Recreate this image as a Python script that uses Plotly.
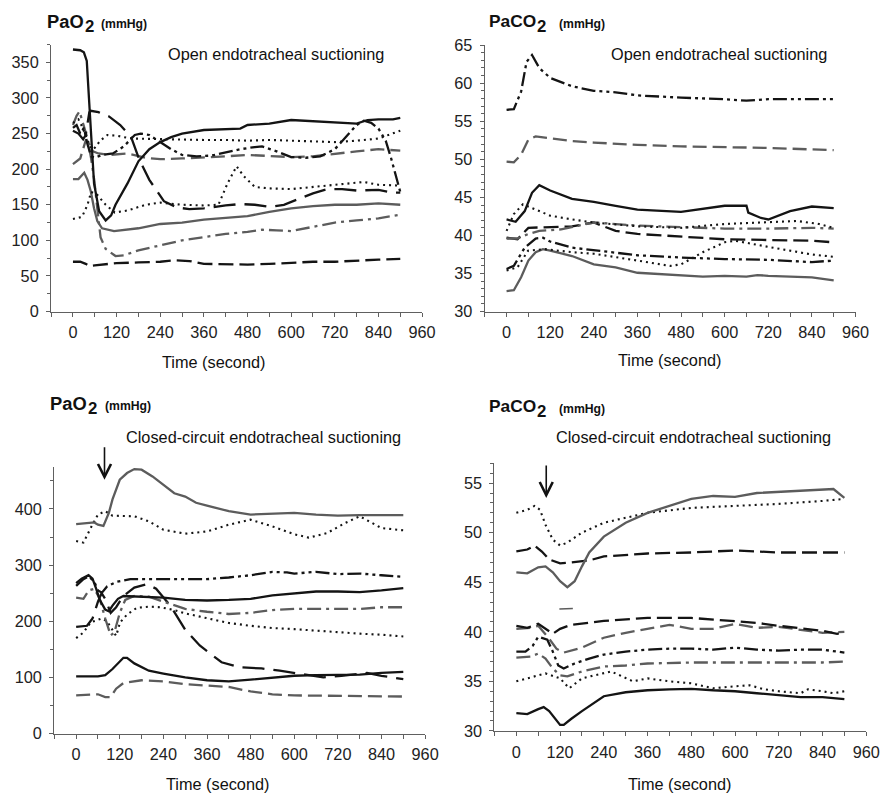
import plotly.graph_objects as go

# ---------------- Panel 1: Open suctioning, PaO2 ----------------
p1_solid_black_t = [0, 20, 30, 38, 44, 49, 58, 72, 90, 105, 117, 150, 180, 210, 240, 270, 300, 360, 420, 460, 480, 540, 600, 660, 720, 780, 810, 840, 880, 900]
p1_solid_black_v = [368, 367, 364, 352, 300, 250, 180, 141, 128, 135, 150, 180, 211, 228, 238, 245, 250, 255, 256, 257, 262, 264, 269, 267, 266, 264, 269, 270, 270, 272]
p1_solid_gray_t = [0, 15, 31, 40, 49, 58, 67, 80, 113, 180, 240, 300, 360, 420, 480, 540, 600, 660, 720, 780, 840, 900]
p1_solid_gray_v = [186, 186, 195, 185, 169, 145, 127, 117, 113, 117, 123, 125, 129, 131, 134, 140, 145, 148, 150, 150, 152, 150]
p1_dashdot_gray_t = [0, 10, 18, 30, 40, 50, 59, 68, 76, 90, 117, 140, 180, 240, 300, 380, 420, 480, 520, 560, 600, 660, 720, 780, 840, 900]
p1_dashdot_gray_v = [262, 275, 281, 262, 243, 215, 183, 140, 104, 88, 78, 79, 86, 93, 100, 106, 109, 112, 115, 114, 113, 119, 125, 128, 131, 136]
p1_dash_gray_t = [0, 20, 35, 45, 55, 70, 100, 150, 200, 240, 300, 360, 420, 480, 540, 600, 660, 720, 780, 840, 900]
p1_dash_gray_v = [207, 215, 240, 235, 225, 222, 220, 222, 216, 214, 215, 216, 218, 220, 219, 217, 218, 222, 225, 228, 226]
p1_longdash_black_t = [0, 15, 28, 35, 45, 49, 70, 99, 130, 160, 182, 210, 250, 287, 320, 360, 420, 460, 500, 540, 580, 620, 660, 700, 740, 780, 840, 880, 900]
p1_longdash_black_v = [254, 250, 242, 248, 280, 282, 280, 274, 262, 245, 214, 185, 155, 146, 144, 145, 149, 151, 150, 147, 150, 158, 166, 172, 172, 170, 171, 167, 167]
p1_dashdotdot_black_t = [0, 10, 20, 30, 40, 50, 60, 80, 110, 140, 170, 186, 210, 240, 270, 300, 340, 380, 420, 460, 500, 520, 560, 600, 640, 680, 720, 750, 780, 800, 820, 840, 860, 875, 890, 900]
p1_dashdotdot_black_v = [258, 262, 250, 258, 235, 218, 216, 220, 222, 232, 248, 250, 248, 238, 228, 220, 218, 219, 224, 228, 231, 232, 225, 217, 216, 218, 228, 245, 262, 268, 265, 257, 240, 215, 185, 168]
p1_dot_upper_t = [0, 15, 25, 40, 50, 60, 75, 95, 120, 160, 240, 300, 360, 420, 480, 540, 600, 660, 720, 780, 840, 900]
p1_dot_upper_v = [265, 270, 260, 240, 228, 230, 240, 248, 247, 243, 242, 242, 241, 241, 240, 241, 240, 240, 238, 240, 243, 254]
p1_dot_lower_t = [0, 25, 40, 50, 65, 90, 115, 150, 200, 240, 300, 360, 400, 425, 450, 470, 500, 540, 600, 660, 720, 780, 800, 840, 900]
p1_dot_lower_v = [130, 133, 150, 168, 165, 150, 139, 142, 150, 153, 150, 149, 150, 180, 204, 190, 175, 173, 172, 175, 177, 180, 182, 178, 177]
p1_dash_black_t = [0, 20, 35, 45, 60, 90, 120, 180, 240, 280, 320, 360, 420, 480, 540, 600, 660, 720, 780, 840, 900]
p1_dash_black_v = [70, 70, 67, 64, 65, 67, 68, 69, 70, 72, 71, 67, 66, 66, 67, 69, 70, 70, 72, 73, 74]

# ---------------- Panel 2: Open suctioning, PaCO2 ----------------
p2_dashdotdot_top_t = [0, 20, 40, 55, 70, 90, 120, 180, 240, 300, 360, 480, 600, 660, 720, 840, 900]
p2_dashdotdot_top_v = [56.5, 56.6, 58.9, 62.8, 63.7, 62.0, 60.7, 59.6, 59.0, 58.8, 58.4, 58.1, 57.9, 57.7, 57.9, 57.9, 57.9]
p2_dash_gray_t = [0, 20, 40, 60, 80, 120, 180, 240, 360, 480, 600, 720, 840, 900]
p2_dash_gray_v = [49.7, 49.6, 50.6, 52.6, 53.0, 52.8, 52.4, 52.2, 51.9, 51.7, 51.6, 51.5, 51.3, 51.2]
p2_solid_black_t = [0, 25, 50, 70, 90, 120, 180, 240, 300, 360, 480, 600, 660, 665, 700, 720, 780, 840, 900]
p2_solid_black_v = [42.1, 41.8, 43.2, 45.6, 46.6, 45.9, 44.8, 44.4, 43.9, 43.4, 43.1, 43.9, 43.9, 43.0, 42.3, 42.1, 43.2, 43.8, 43.6]
p2_dot_upper_t = [0, 20, 45, 90, 120, 180, 240, 360, 480, 600, 720, 800, 860, 900]
p2_dot_upper_v = [40.6, 42.8, 44.1, 43.2, 42.6, 42.1, 41.7, 41.2, 41.0, 41.5, 41.7, 41.9, 41.5, 41.0]
p2_dashdot_gray_t = [0, 30, 60, 90, 150, 240, 300, 360, 480, 600, 720, 840, 900]
p2_dashdot_gray_v = [39.6, 39.6, 40.2, 40.6, 40.8, 41.7, 41.5, 41.3, 41.1, 40.9, 40.9, 41.0, 40.9]
p2_dash_black_t = [0, 30, 60, 120, 180, 240, 300, 360, 480, 600, 720, 840, 900]
p2_dash_black_v = [39.7, 39.5, 41.0, 41.1, 41.2, 41.7, 40.6, 40.2, 39.8, 39.5, 39.4, 39.3, 39.1]
p2_dashdotdot_low_t = [0, 20, 50, 80, 100, 120, 180, 240, 360, 480, 600, 720, 840, 900]
p2_dashdotdot_low_v = [35.6, 36.0, 38.4, 39.6, 39.7, 39.2, 38.4, 38.1, 37.4, 37.1, 36.9, 36.8, 36.5, 36.7]
p2_dot_lower_t = [0, 30, 59, 105, 180, 240, 360, 450, 480, 540, 600, 630, 720, 840, 900]
p2_dot_lower_v = [35.4, 35.8, 38.0, 38.2, 37.8, 37.6, 36.7, 36.0, 36.2, 37.8, 39.1, 39.3, 38.5, 37.5, 37.2]
p2_solid_gray_t = [0, 20, 40, 60, 80, 100, 120, 180, 240, 300, 360, 480, 540, 600, 660, 690, 720, 840, 900]
p2_solid_gray_v = [32.7, 32.8, 34.5, 36.7, 37.8, 38.2, 38.0, 37.3, 36.2, 35.8, 35.1, 34.8, 34.6, 34.7, 34.6, 34.8, 34.7, 34.5, 34.1]

# ---------------- Panel 3: Closed-circuit suctioning, PaO2 ----------------
p3_solid_gray_t = [0, 30, 50, 60, 75, 90, 100, 120, 140, 160, 180, 210, 240, 270, 300, 330, 360, 420, 480, 540, 600, 660, 720, 780, 840, 900]
p3_solid_gray_v = [373, 374, 376, 372, 370, 393, 417, 452, 464, 471, 470, 458, 443, 428, 422, 411, 406, 396, 390, 392, 393, 390, 388, 389, 389, 389]
p3_dot_top_t = [0, 20, 40, 60, 80, 100, 160, 200, 240, 300, 360, 420, 480, 540, 600, 640, 690, 740, 780, 840, 900]
p3_dot_top_v = [343, 340, 366, 390, 396, 388, 387, 378, 363, 356, 360, 372, 381, 369, 355, 349, 357, 375, 387, 366, 362]
p3_dashdotdot_t = [0, 20, 35, 50, 60, 71, 85, 110, 149, 240, 360, 420, 480, 540, 580, 600, 660, 720, 780, 840, 900]
p3_dashdotdot_v = [263, 275, 280, 270, 255, 251, 262, 270, 275, 275, 275, 278, 282, 288, 287, 285, 288, 284, 285, 282, 279]
p3_solid_black_t = [0, 15, 34, 45, 55, 65, 80, 90, 100, 115, 130, 180, 240, 300, 360, 420, 480, 540, 600, 660, 720, 780, 840, 900]
p3_solid_black_v = [268, 276, 282, 276, 258, 238, 221, 218, 228, 240, 245, 244, 242, 238, 237, 238, 240, 246, 249, 253, 253, 252, 255, 259]
p3_dashdot_gray_t = [0, 20, 35, 50, 65, 80, 95, 105, 120, 135, 160, 200, 240, 300, 360, 420, 480, 540, 600, 660, 720, 780, 840, 900]
p3_dashdot_gray_v = [242, 240, 255, 258, 240, 205, 175, 180, 215, 238, 245, 244, 235, 222, 217, 213, 215, 220, 222, 222, 223, 222, 225, 225]
p3_longdash_black_t = [0, 30, 45, 60, 70, 80, 95, 110, 130, 160, 195, 220, 260, 300, 340, 400, 450, 510, 560, 620, 680, 730, 800, 840, 900]
p3_longdash_black_v = [190, 192, 205, 235, 250, 240, 215, 225, 245, 260, 266, 258, 227, 185, 157, 127, 118, 116, 112, 106, 100, 103, 108, 103, 97]
p3_dot_mid_t = [0, 20, 40, 55, 70, 85, 100, 110, 121, 140, 167, 200, 232, 270, 300, 360, 420, 480, 540, 600, 660, 720, 780, 840, 900]
p3_dot_mid_v = [170, 180, 198, 202, 205, 200, 185, 174, 198, 212, 224, 226, 225, 220, 214, 205, 197, 192, 188, 186, 183, 180, 178, 176, 173]
p3_solid_black_low_t = [0, 60, 80, 100, 130, 140, 160, 200, 240, 300, 360, 420, 480, 540, 600, 660, 720, 780, 840, 900]
p3_solid_black_low_v = [102, 102, 104, 115, 135, 135, 125, 112, 107, 100, 95, 93, 96, 100, 103, 104, 104, 105, 108, 110]
p3_dash_gray_t = [0, 40, 60, 80, 95, 110, 130, 180, 240, 300, 360, 420, 480, 540, 600, 720, 840, 900]
p3_dash_gray_v = [68, 70, 70, 65, 65, 80, 90, 95, 93, 88, 86, 83, 75, 70, 68, 67, 66, 66]

# ---------------- Panel 4: Closed-circuit suctioning, PaCO2 ----------------
p4_solid_gray_t = [0, 30, 60, 80, 100, 120, 140, 160, 180, 200, 240, 300, 360, 420, 480, 540, 600, 660, 720, 780, 840, 870, 900]
p4_solid_gray_v = [46.0, 45.9, 46.5, 46.6, 46.0, 45.1, 44.5, 45.1, 46.6, 48.0, 49.6, 51.0, 52.0, 52.7, 53.4, 53.7, 53.6, 54.0, 54.1, 54.2, 54.3, 54.4, 53.5]
p4_dot_top_t = [0, 30, 50, 65, 80, 100, 120, 140, 180, 240, 300, 360, 480, 600, 720, 840, 900]
p4_dot_top_v = [52.0, 52.3, 52.7, 52.3, 50.8, 49.3, 48.7, 49.0, 50.0, 51.0, 51.5, 52.0, 52.5, 52.7, 52.9, 53.2, 53.4]
p4_dash_black_t = [0, 30, 50, 70, 90, 120, 150, 200, 240, 360, 480, 600, 720, 840, 900]
p4_dash_black_v = [48.1, 48.3, 48.7, 48.1, 47.3, 46.9, 47.0, 47.2, 47.6, 47.9, 48.0, 48.2, 48.0, 48.0, 48.0]
p4_dash_black_low_t = [0, 30, 60, 80, 100, 120, 150, 240, 360, 480, 600, 660, 720, 840, 880, 900]
p4_dash_black_low_v = [40.6, 40.4, 40.8, 40.3, 39.8, 40.3, 40.7, 41.1, 41.4, 41.4, 41.1, 40.9, 40.6, 40.1, 39.8, 40.0]
p4_dash_gray_t = [0, 40, 60, 90, 110, 130, 180, 240, 300, 360, 420, 480, 540, 600, 660, 720, 840, 900]
p4_dash_gray_v = [40.3, 40.4, 40.6, 39.3, 38.3, 37.9, 38.4, 39.4, 39.9, 40.3, 40.7, 40.3, 40.3, 40.8, 40.4, 40.5, 39.9, 40.0]
p4_dashdotdot_t = [0, 25, 45, 60, 85, 100, 115, 130, 160, 200, 240, 300, 360, 420, 480, 540, 600, 660, 720, 780, 840, 900]
p4_dashdotdot_v = [38.0, 38.0, 38.6, 39.5, 39.2, 38.0, 36.6, 36.3, 36.8, 37.3, 37.7, 38.0, 38.2, 38.3, 38.3, 38.2, 38.4, 38.2, 38.1, 38.2, 38.2, 37.9]
p4_dashdot_gray_t = [0, 40, 60, 80, 100, 120, 140, 180, 240, 300, 360, 480, 600, 720, 840, 900]
p4_dashdot_gray_v = [37.4, 37.5, 37.8, 37.3, 36.3, 35.6, 35.5, 36.0, 36.5, 36.6, 36.8, 36.9, 36.9, 36.9, 36.9, 37.0]
p4_dot_low_t = [0, 40, 80, 120, 145, 180, 240, 260, 290, 320, 360, 420, 480, 540, 600, 640, 680, 720, 780, 800, 840, 870, 900]
p4_dot_low_v = [35.0, 35.4, 35.8, 35.3, 34.3, 35.3, 35.8, 36.0, 35.5, 35.0, 35.3, 35.0, 34.8, 34.3, 34.5, 34.6, 34.2, 34.0, 33.8, 34.2, 34.0, 33.8, 34.0]
p4_solid_black_t = [0, 30, 60, 75, 90, 110, 120, 130, 150, 180, 240, 300, 360, 420, 480, 540, 600, 660, 720, 780, 840, 900]
p4_solid_black_v = [31.8, 31.7, 32.2, 32.4, 32.0, 31.0, 30.6, 30.6, 31.2, 32.0, 33.5, 33.9, 34.1, 34.2, 34.25, 34.1, 34.0, 33.8, 33.6, 33.4, 33.4, 33.2]

# tick labels
x_ticks = [0, 120, 240, 360, 480, 600, 720, 840, 960]

# ---------------- styling ----------------
BLACK = "#141414"
GRAY = "#5c5c5c"
AXC = "#606060"
FONT = "Liberation Sans, Arial, sans-serif"
STY = {
    "solid_black": dict(color=BLACK, width=2.3),
    "solid_gray": dict(color=GRAY, width=2.3),
    "dash_black": dict(color=BLACK, width=2.3, dash="15px,6px"),
    "longdash_black": dict(color=BLACK, width=2.3, dash="22px,9px"),
    "dash_gray": dict(color=GRAY, width=2.3, dash="14px,6px"),
    "dot_black": dict(color=BLACK, width=2.1, dash="2px,4px"),
    "dashdot_gray": dict(color=GRAY, width=2.3, dash="14px,5px,3px,5px"),
    "dashdotdot_black": dict(color=BLACK, width=2.3, dash="14px,4px,3px,4px,3px,4px"),
}

panels = {
    1: [
        (p1_dash_black_t, p1_dash_black_v, "dash_black"),
        (p1_dashdot_gray_t, p1_dashdot_gray_v, "dashdot_gray"),
        (p1_solid_gray_t, p1_solid_gray_v, "solid_gray"),
        (p1_dot_lower_t, p1_dot_lower_v, "dot_black"),
        (p1_dash_gray_t, p1_dash_gray_v, "dash_gray"),
        (p1_dot_upper_t, p1_dot_upper_v, "dot_black"),
        (p1_dashdotdot_black_t, p1_dashdotdot_black_v, "dashdotdot_black"),
        (p1_longdash_black_t, p1_longdash_black_v, "longdash_black"),
        (p1_solid_black_t, p1_solid_black_v, "solid_black"),
    ],
    2: [
        (p2_solid_gray_t, p2_solid_gray_v, "solid_gray"),
        (p2_dot_lower_t, p2_dot_lower_v, "dot_black"),
        (p2_dashdotdot_low_t, p2_dashdotdot_low_v, "dashdotdot_black"),
        (p2_dash_black_t, p2_dash_black_v, "dash_black"),
        (p2_dashdot_gray_t, p2_dashdot_gray_v, "dashdot_gray"),
        (p2_dot_upper_t, p2_dot_upper_v, "dot_black"),
        (p2_solid_black_t, p2_solid_black_v, "solid_black"),
        (p2_dash_gray_t, p2_dash_gray_v, "dash_gray"),
        (p2_dashdotdot_top_t, p2_dashdotdot_top_v, "dashdotdot_black"),
    ],
    3: [
        (p3_dash_gray_t, p3_dash_gray_v, "dash_gray"),
        (p3_solid_black_low_t, p3_solid_black_low_v, "solid_black"),
        (p3_dot_mid_t, p3_dot_mid_v, "dot_black"),
        (p3_longdash_black_t, p3_longdash_black_v, "longdash_black"),
        (p3_dashdot_gray_t, p3_dashdot_gray_v, "dashdot_gray"),
        (p3_solid_black_t, p3_solid_black_v, "solid_black"),
        (p3_dashdotdot_t, p3_dashdotdot_v, "dashdotdot_black"),
        (p3_dot_top_t, p3_dot_top_v, "dot_black"),
        (p3_solid_gray_t, p3_solid_gray_v, "solid_gray"),
    ],
    4: [
        (p4_solid_black_t, p4_solid_black_v, "solid_black"),
        (p4_dot_low_t, p4_dot_low_v, "dot_black"),
        (p4_dashdot_gray_t, p4_dashdot_gray_v, "dashdot_gray"),
        (p4_dashdotdot_t, p4_dashdotdot_v, "dashdotdot_black"),
        (p4_dash_gray_t, p4_dash_gray_v, "dash_gray"),
        (p4_dash_black_low_t, p4_dash_black_low_v, "dash_black"),
        (p4_dash_black_t, p4_dash_black_v, "dash_black"),
        (p4_dot_top_t, p4_dot_top_v, "dot_black"),
        (p4_solid_gray_t, p4_solid_gray_v, "solid_gray"),
    ],
}

# Target positions below are given in picture pixels; the photographed page is
# mapped to the picture with a small scale/offset, compensated here.
S, OY = 0.982, 7.0
W, H = 906, 797
def PX(px):
    return (px / S) / W
def PY(py):
    return 1 - ((py - OY) / S) / H

fig = go.Figure()
axis_ref = {1: ("x", "y"), 2: ("x2", "y2"), 3: ("x3", "y3"), 4: ("x4", "y4")}
for k, series in panels.items():
    xa, ya = axis_ref[k]
    for t, v, s in series:
        fig.add_trace(go.Scatter(x=t, y=v, mode="lines", line=STY[s], xaxis=xa, yaxis=ya,
                                 showlegend=False, hoverinfo="skip"))

# panel geometry in picture pixels: x-left, x-right, y-bottom, y-top
geo = {
    1: dict(x0=51, x1=421, yb=311, yt=42.7, yr=[0, 375], ydt=50, ym=25),
    2: dict(x0=483.5, x1=853.3, yb=311, yt=43.3, yr=[30, 65], ydt=5, ym=1),
    3: dict(x0=54.2, x1=424, yb=735, yt=467, yr=[0, 475], ydt=100, ym=50),
    4: dict(x0=493.2, x1=864, yb=732.3, yt=463.4, yr=[30, 57], ydt=5, ym=1),
}
tickfont = dict(family=FONT, size=16.3, color="#222")
layout = {}
for k, g in geo.items():
    sx = "" if k == 1 else str(k)
    layout["xaxis" + sx] = dict(
        domain=[PX(g["x0"]), PX(g["x1"])], range=[-60, 960], anchor="y" + sx,
        tickvals=x_ticks, ticktext=[str(v) for v in x_ticks],
        ticks="outside", ticklen=4, tickcolor=AXC, tickwidth=1, ticklabelstandoff=2,
        minor=dict(dtick=60, tick0=0, ticks="outside", ticklen=4, tickcolor=AXC),
        showline=True, linecolor=AXC, linewidth=1.3, showgrid=False, zeroline=False,
        tickfont=tickfont, fixedrange=True)
    layout["yaxis" + sx] = dict(
        domain=[PY(g["yb"]), PY(g["yt"])], range=g["yr"], anchor="x" + sx,
        dtick=g["ydt"], tick0=0, ticks="outside", ticklen=4, tickcolor=AXC, tickwidth=1,
        ticklabelstandoff=4,
        minor=dict(dtick=g["ym"], ticks="outside", ticklen=3, tickcolor=AXC),
        showline=True, linecolor=AXC, linewidth=1.3, showgrid=False, zeroline=False,
        tickfont=tickfont, fixedrange=True)

annotations = []
def txt(text, px, py, size, bold=False, xanchor="left"):
    t = f"<b>{text}</b>" if bold else text
    annotations.append(dict(text=t, x=PX(px), y=PY(py), xref="paper", yref="paper",
                            xanchor=xanchor, yanchor="middle", showarrow=False, borderpad=0,
                            font=dict(family=FONT, size=size / S, color="#111")))

# axis titles
txt("Time (second)", 213, 362, 16, xanchor="center")
txt("Time (second)", 668, 360, 16, xanchor="center")
txt("Time (second)", 217, 785.5, 16, xanchor="center")
txt("Time (second)", 678, 785.5, 16, xanchor="center")

# in-panel labels
txt("Open endotracheal suctioning", 275, 52, 16, xanchor="center")
txt("Open endotracheal suctioning", 717, 52, 16, xanchor="center")
txt("Closed-circuit endotracheal suctioning", 263, 437, 16, xanchor="center")
txt("Closed-circuit endotracheal suctioning", 692, 437, 16, xanchor="center")

# headers: (left px, main text, size, cap-centre py, x of "2", x of "(mmHg)")
for (x0, name, fs, y0, x2, xm) in [(46, "PaO", 18, 19.5, 84, 100), (487, "PaCO", 17, 19.5, 535, 557),
                                   (49, "PaO", 18, 403, 87, 104), (487, "PaCO", 17, 406, 535, 557)]:
    txt(name, x0, y0, fs, bold=True)
    txt("2", x2, y0 + 5, 16.5, bold=True)
    txt("(mmHg)", xm, y0 + 3, 12, bold=True)

# arrows marking suction start
for xa, ya, xv, yv, alen in [("x3", "y3", 78, 452, 34), ("x4", "y4", 82, 53.5, 34)]:
    annotations.append(dict(x=xv, y=yv, xref=xa, yref=ya, ax=0, ay=-alen, text="",
                            showarrow=True, arrowhead=5, arrowsize=1.6, arrowwidth=1.6,
                            arrowcolor="#111"))

fig.update_layout(
    width=W, height=H, margin=dict(l=0, r=0, t=0, b=0),
    paper_bgcolor="white", plot_bgcolor="white",
    annotations=annotations,
    shapes=[dict(type="line", xref="x4", yref="y4", x0=118, x1=155, y0=42.3, y1=42.35,
                 line=dict(color=GRAY, width=1.5))],
    **layout,
)

fig.write_html("out.html", config={"displayModeBar": False},
               post_script="document.body.style.margin='0px';document.body.style.overflow='hidden';")
